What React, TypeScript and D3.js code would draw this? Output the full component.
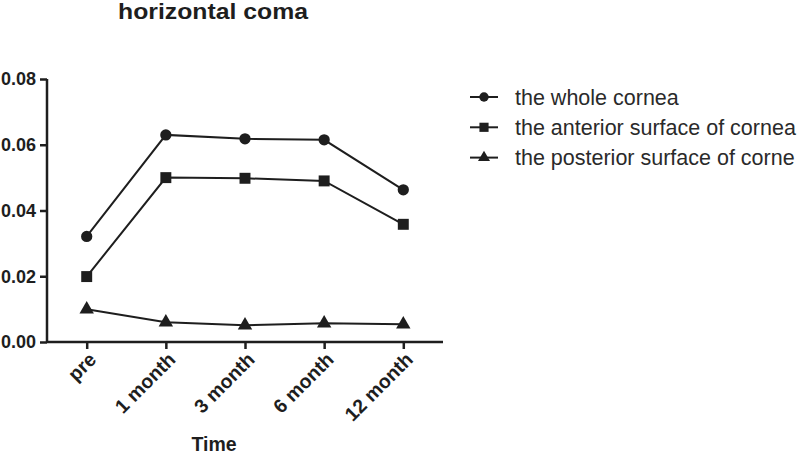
import React, { useEffect, useRef } from "react";
import * as d3 from "d3";

const categories = ["pre", "1 month", "3 month", "6 month", "12 month"];
const wholeCornea = [0.0321, 0.063, 0.0618, 0.0615, 0.0463];
const anteriorSurface = [0.0199, 0.05, 0.0498, 0.049, 0.0358];
const posteriorSurface = [0.00995, 0.006, 0.0051, 0.0057, 0.0054];
const seriesNames = [
  "the whole cornea",
  "the anterior surface of cornea",
  "the posterior surface of corne",
];
const yTicks = [0, 0.02, 0.04, 0.06, 0.08];

export default function App() {
  const ref = useRef<SVGSVGElement>(null);
  useEffect(() => {
    const svg = d3.select(ref.current);
    svg.selectAll("*").remove();
    const ink = "#1e1e1e";
    const font = "Liberation Sans, Arial, sans-serif";

    const x = d3.scalePoint<string>().domain(categories).range([86.7, 403.3]);
    const y = d3.scaleLinear().domain([0, 0.08]).range([342, 79]);

    // title
    svg.append("text").attr("x", 118).attr("y", 19)
      .attr("font-family", font).attr("font-weight", "bold").attr("font-size", 22)
      .attr("textLength", 190).attr("lengthAdjust", "spacingAndGlyphs")
      .attr("fill", ink).text("horizontal coma");

    // y axis
    const yAxis = svg.append("g").attr("transform", "translate(47,0)")
      .call(d3.axisLeft(y).tickValues(yTicks).tickFormat(d3.format(".2f")).tickSize(7).tickPadding(4));
    yAxis.select(".domain").attr("stroke", ink).attr("stroke-width", 2.5).attr("d", `M0,${y(0.08)}V${y(0)}`);
    yAxis.selectAll(".tick line").attr("stroke", ink).attr("stroke-width", 2.5);
    yAxis.selectAll(".tick text").attr("font-family", font).attr("font-weight", "bold")
      .attr("font-size", 18).attr("fill", ink);

    // x axis
    const xAxis = svg.append("g").attr("transform", "translate(0,342)")
      .call(d3.axisBottom(x).tickSize(7).tickFormat(() => ""));
    xAxis.select(".domain").attr("stroke", ink).attr("stroke-width", 2.5).attr("d", "M47,0H443");
    xAxis.selectAll(".tick line").attr("stroke", ink).attr("stroke-width", 2.5);
    xAxis.selectAll(".tick text").remove();
    svg.append("g").selectAll("text").data(categories).join("text")
      .attr("transform", (d) => `translate(${(x(d) as number) + 6},${356}) rotate(-45)`)
      .attr("text-anchor", "end").attr("dy", "0.35em")
      .attr("font-family", font).attr("font-weight", "bold").attr("font-size", 19.5)
      .attr("fill", ink).text((d) => d);

    svg.append("text").attr("x", 214).attr("y", 451).attr("text-anchor", "middle")
      .attr("font-family", font).attr("font-weight", "bold").attr("font-size", 19.5)
      .attr("fill", ink).text("Time");

    const all = [wholeCornea, anteriorSurface, posteriorSurface];
    const symbols = [d3.symbolCircle, d3.symbolSquare, d3.symbolTriangle];
    const sizes = [100, 120, 90];
    const line = d3.line<number>().x((_, i) => x(categories[i]) as number).y((v) => y(v));

    all.forEach((vals, si) => {
      svg.append("path").attr("d", line(vals)).attr("fill", "none")
        .attr("stroke", ink).attr("stroke-width", 2);
      svg.append("g").selectAll("path").data(vals).join("path")
        .attr("transform", (v, i) => `translate(${x(categories[i])},${y(v)})`)
        .attr("d", d3.symbol().type(symbols[si]).size(sizes[si])())
        .attr("fill", ink);
    });

    // legend
    const lg = svg.append("g");
    seriesNames.forEach((name, si) => {
      const ly = 97 + si * 30.3;
      lg.append("line").attr("x1", 470).attr("x2", 498).attr("y1", ly).attr("y2", ly)
        .attr("stroke", ink).attr("stroke-width", 2);
      lg.append("path").attr("transform", `translate(484,${ly})`)
        .attr("d", d3.symbol().type(symbols[si]).size(sizes[si] * 0.7)())
        .attr("fill", ink);
      lg.append("text").attr("x", 515).attr("y", ly).attr("dy", "0.35em")
        .attr("font-family", font).attr("font-size", 21.5).attr("fill", "#2a2a2a")
        .text(name);
    });
  }, []);
  return (
    <svg ref={ref} width={800} height={455}
      style={{ position: "absolute", left: 0, top: 0, background: "#fff" }} />
  );
}
